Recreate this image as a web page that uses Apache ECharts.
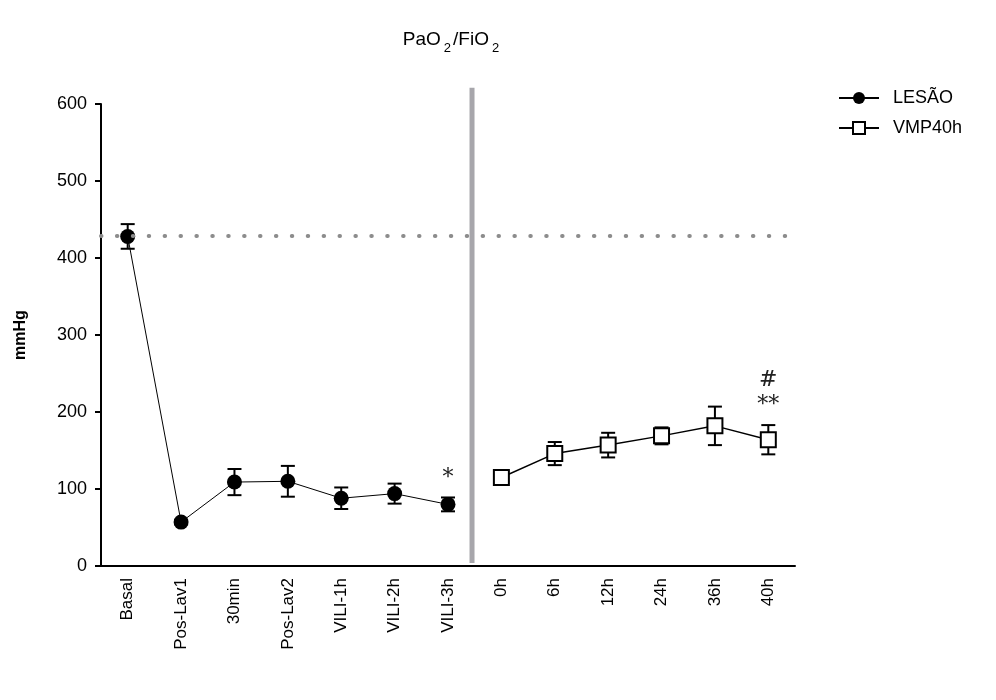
<!DOCTYPE html>
<html>
<head>
<meta charset="utf-8">
<script src="https://cdn.jsdelivr.net/npm/echarts@6/dist/echarts.min.js"></script>
<style>
html, body { margin: 0; background: #fff; }
#chart { width: 996px; height: 700px; }
</style>
</head>
<body>
<div id="chart"></div>
<script>
// dados
const categories = ['Basal', 'Pos-Lav1', '30min', 'Pos-Lav2', 'VILI-1h', 'VILI-2h', 'VILI-3h', '0h', '6h', '12h', '24h', '36h', '40h'];
const lesaoMean = [428, 57, 109, 110, 88, 94, 80, null, null, null, null, null, null];
const lesaoErr = [16, 3, 17, 20, 14, 13, 9, null, null, null, null, null, null];
const vmpMean = [null, null, null, null, null, null, null, 115, 146, 157, 169, 182, 164];
const vmpErr = [null, null, null, null, null, null, null, 8, 15, 16, 11, 25, 19];
const yMin = 0, yMax = 600, yStep = 100;
const baselineValue = 429;
const separatorTop = 621;
const annotCat = ['VILI-3h', '40h', '40h'];
const annotValue = [114, 209, 241];
const annotText = ['*', '**', '#'];

const FONT = '"Liberation Sans", Arial, sans-serif';

function errData(mean, err) {
    const out = [];
    mean.forEach((m, i) => {
        if (m != null) out.push([i, m - err[i], m + err[i]]);
    });
    return out;
}

function errorBarItem(params, api) {
    const x = api.value(0);
    const top = api.coord([x, api.value(2)]);
    const bot = api.coord([x, api.value(1)]);
    const half = 7;
    const st = { stroke: '#000', lineWidth: 2 };
    return {
        type: 'group',
        children: [
            { type: 'line', shape: { x1: top[0], y1: top[1], x2: bot[0], y2: bot[1] }, style: st },
            { type: 'line', shape: { x1: top[0] - half, y1: top[1], x2: top[0] + half, y2: top[1] }, style: st },
            { type: 'line', shape: { x1: bot[0] - half, y1: bot[1], x2: bot[0] + half, y2: bot[1] }, style: st }
        ]
    };
}

var chart = echarts.init(document.getElementById('chart'));
var option = {
    animation: false,
    title: {
        text: '{n|PaO}{s|2}{n|/FiO}{s|2}',
        left: 447,
        top: 22,
        textAlign: 'center',
        textStyle: {
            rich: {
                n: { fontFamily: FONT, fontSize: 19, fontWeight: 'normal', color: '#000', verticalAlign: 'bottom', lineHeight: 22 },
                s: { fontFamily: FONT, fontSize: 13, fontWeight: 'normal', color: '#000', verticalAlign: 'bottom', lineHeight: 22, padding: [0, 2, -6, 3] }
            }
        }
    },
    legend: {
        orient: 'vertical',
        left: 833,
        top: 84,
        itemWidth: 40,
        itemHeight: 15,
        itemGap: 12,
        data: ['LESÃO', 'VMP40h'],
        textStyle: { fontFamily: FONT, fontSize: 18, color: '#000', padding: [0, 0, 0, 9] }
    },
    grid: { left: 101, right: 201, top: 104, bottom: 134 },
    xAxis: {
        type: 'category',
        data: categories,
        axisLine: { lineStyle: { color: '#000', width: 2 } },
        axisTick: { alignWithLabel: true, length: 7, lineStyle: { color: '#000', width: 2 } },
        axisLabel: { rotate: 90, margin: 12, fontFamily: FONT, fontSize: 17, color: '#000' }
    },
    yAxis: {
        type: 'value',
        min: yMin,
        max: yMax,
        interval: yStep,
        name: 'mmHg',
        nameLocation: 'middle',
        nameGap: 72,
        nameTextStyle: { fontFamily: FONT, fontSize: 16, fontWeight: 'bold', color: '#000' },
        axisLine: { show: true, lineStyle: { color: '#000', width: 2 } },
        axisTick: { show: true, length: 6, lineStyle: { color: '#000', width: 2 } },
        axisLabel: { margin: 14, fontFamily: FONT, fontSize: 18, color: '#000' },
        splitLine: { show: false }
    },
    series: [
        {
            name: 'separator',
            type: 'custom',
            silent: true,
            clip: false,
            z: 1,
            data: [[categories.indexOf('VILI-3h'), categories.indexOf('0h')]],
            renderItem: function (params, api) {
                const a = api.coord([api.value(0), yMin]);
                const b = api.coord([api.value(1), yMin]);
                const t = api.coord([api.value(0), separatorTop]);
                const x = a[0] + (b[0] - a[0]) * 0.45;
                return {
                    type: 'line',
                    shape: { x1: x, y1: t[1], x2: x, y2: a[1] - 3 },
                    style: { stroke: '#a7a6ab', lineWidth: 5 }
                };
            }
        },
        {
            name: 'LESÃO',
            type: 'line',
            data: lesaoMean,
            z: 4,
            symbol: 'circle',
            symbolSize: 15,
            showSymbol: true,
            connectNulls: false,
            itemStyle: { color: '#000' },
            lineStyle: { color: '#000', width: 1 },
            markLine: {
                silent: true,
                symbol: ['none', 'none'],
                label: { show: false },
                lineStyle: { color: '#8c8c8c', width: 4, type: [0.5, 15.4], cap: 'round' },
                data: [{ yAxis: baselineValue }]
            }
        },
        {
            name: 'VMP40h',
            type: 'line',
            data: vmpMean,
            z: 4,
            symbol: 'rect',
            symbolSize: 15,
            showSymbol: true,
            itemStyle: { color: '#fff', borderColor: '#000', borderWidth: 2 },
            lineStyle: { color: '#000', width: 1.5 }
        },
        {
            name: 'errLesao',
            type: 'custom',
            z: 3,
            silent: true,
            data: errData(lesaoMean, lesaoErr),
            renderItem: errorBarItem
        },
        {
            name: 'errVmp',
            type: 'custom',
            z: 3,
            silent: true,
            data: errData(vmpMean, vmpErr),
            renderItem: errorBarItem
        },
        {
            name: 'annot',
            type: 'custom',
            z: 5,
            silent: true,
            data: annotCat.map((c, i) => [categories.indexOf(c), annotValue[i], annotText[i]]),
            renderItem: function (params, api) {
                const p = api.coord([api.value(0), api.value(1)]);
                const txt = annotText[params.dataIndex];
                return {
                    type: 'text',
                    x: p[0],
                    y: p[1],
                    style: {
                        text: txt,
                        fontFamily: '"DejaVu Serif", serif',
                        fontSize: 22,
                        fill: '#222',
                        align: 'center',
                        verticalAlign: 'middle'
                    }
                };
            }
        }
    ]
};
option && chart.setOption(option);
</script>
</body>
</html>
